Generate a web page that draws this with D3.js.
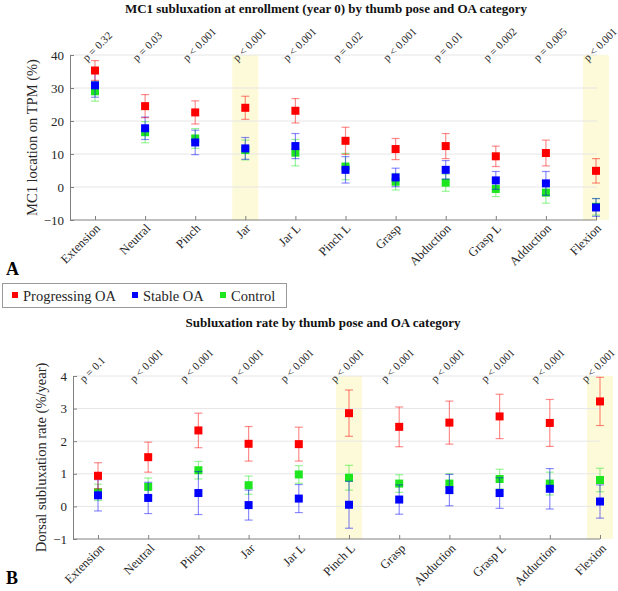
<!DOCTYPE html>
<html><head><meta charset="utf-8">
<script src="https://cdn.jsdelivr.net/npm/d3@7"></script>
<style>body{margin:0;background:#fff}svg{display:block}svg text{font-family:"Liberation Serif","Times New Roman",serif !important}</style>
</head><body>
<svg id="c" width="618" height="591" font-family="Liberation Serif, serif"></svg>
<script>
const categories = ["Extension","Neutral","Pinch","Jar","Jar L","Pinch L","Grasp","Abduction","Grasp L","Adduction","Flexion"];
const seriesNames = ["Progressing OA","Stable OA","Control"];
const seriesColors = ["#ff0000","#0000ff","#1ee61e"];

// Panel A: MC1 location on TPM (%) at enrollment
const progA = [35.3, 24.5, 22.6, 24.0, 23.1, 14.0, 11.5, 12.4, 9.3, 10.3, 4.9];
const progErrA = [3.0, 3.5, 3.5, 3.5, 3.7, 4.1, 3.2, 3.8, 3.1, 3.9, 3.7];
const stableA = [30.8, 17.8, 13.5, 11.7, 12.4, 5.2, 2.9, 5.2, 2.0, 1.1, -6.2];
const stableErrA = [3.6, 3.4, 3.7, 3.3, 3.8, 4.0, 2.8, 2.8, 2.7, 3.6, 2.7];
const controlA = [29.0, 16.6, 14.7, 11.2, 10.4, 6.2, 1.6, 1.3, -0.6, -1.7, -6.0];
const controlErrA = [3.0, 3.2, 3.0, 3.0, 4.0, 4.0, 2.5, 2.6, 2.3, 3.2, 2.5];
const pValuesA = ["p = 0.32","p = 0.03","p < 0.001","p < 0.001","p < 0.001","p = 0.02","p < 0.001","p = 0.01","p = 0.002","p = 0.005","p < 0.001"];
const highlightA = ["Jar","Flexion"];
const yTicksA = [-10, 0, 10, 20, 30, 40];

// Panel B: dorsal subluxation rate (%/year)
const progB = [0.94, 1.51, 2.33, 1.92, 1.91, 2.86, 2.44, 2.57, 2.76, 2.56, 3.22];
const progErrB = [0.40, 0.46, 0.53, 0.53, 0.52, 0.71, 0.61, 0.66, 0.68, 0.72, 0.74];
const stableB = [0.34, 0.26, 0.41, 0.04, 0.24, 0.05, 0.21, 0.50, 0.41, 0.54, 0.15];
const stableErrB = [0.48, 0.48, 0.66, 0.46, 0.43, 0.72, 0.45, 0.48, 0.47, 0.62, 0.51];
const controlB = [0.43, 0.60, 1.11, 0.65, 0.98, 0.88, 0.70, 0.70, 0.84, 0.70, 0.81];
const controlErrB = [0.25, 0.27, 0.27, 0.28, 0.27, 0.38, 0.27, 0.30, 0.30, 0.35, 0.36];
const pValuesB = ["p = 0.1","p < 0.001","p < 0.001","p < 0.001","p < 0.001","p < 0.001","p < 0.001","p < 0.001","p < 0.001","p < 0.001","p < 0.001"];
const highlightB = ["Pinch L","Flexion"];
const yTicksB = [-1, 0, 1, 2, 3, 4];

const FONT = "Liberation Serif, Times New Roman, serif";
const svg = d3.select("#c");

function panel(cfg) {
  const g = svg.append("g").attr("font-family", FONT);
  const x = d3.scalePoint().domain(categories).range([cfg.x0, cfg.x1]);
  const y = d3.scaleLinear().domain(cfg.yDomain).range([cfg.yBottom, cfg.yTop]);
  // highlight bands
  g.selectAll("rect.band").data(cfg.highlight).join("rect")
    .attr("x", d => x(d) - 13).attr("width", 26)
    .attr("y", cfg.yTop).attr("height", cfg.yBottom - cfg.yTop)
    .attr("fill", "#fcfad8");
  // gridlines
  g.selectAll("line.grid").data(cfg.yTicks.slice(1)).join("line")
    .attr("x1", cfg.axLeft).attr("x2", cfg.axRight)
    .attr("y1", d => y(d)).attr("y2", d => y(d))
    .attr("stroke", "#e6e6e6").attr("stroke-width", 1);
  // axes
  const ya = g.append("g").attr("transform", `translate(${cfg.axLeft},0)`)
    .call(d3.axisLeft(y).tickValues(cfg.yTicks).tickFormat(d3.format("d"))
      .tickSizeInner(-4).tickSizeOuter(0).tickPadding(6));
  ya.attr("font-family", FONT);
  ya.select(".domain").attr("stroke", "#808080");
  ya.selectAll(".tick line").attr("stroke", "#808080");
  ya.selectAll(".tick text").attr("font-size", 13).attr("fill", "#262626").attr("font-family", FONT);
  const xa = g.append("g").attr("transform", `translate(0,${cfg.yBottom})`)
    .call(d3.axisBottom(x).tickSizeInner(-4).tickSizeOuter(0).tickFormat(""));
  xa.select(".domain").attr("d", `M${cfg.axLeft},0H${cfg.axRight}`).attr("stroke", "#808080");
  xa.selectAll(".tick line").attr("stroke", "#808080");
  g.selectAll("text.xl").data(categories).join("text")
    .attr("transform", d => `translate(${x(d) + cfg.xlDx},${cfg.yBottom + cfg.xlDy}) rotate(-45)`)
    .attr("text-anchor", "end").attr("font-size", 12.5).attr("fill", "#262626").text(d => d);
  // p-values
  g.selectAll("text.pv").data(cfg.pValues).join("text")
    .attr("transform", (d, i) => `translate(${x(categories[i]) + cfg.pvDx},${cfg.yTop + 7}) rotate(-45)`)
    .attr("text-anchor", "start").attr("font-size", 11).attr("fill", "#262626").text(d => d);
  // title
  g.append("text").attr("x", cfg.titleX).attr("y", cfg.titleY).attr("text-anchor", "middle")
    .attr("font-size", 13).attr("font-weight", "bold").attr("fill", "#111").text(cfg.title);
  // y label
  g.append("text").attr("transform", `translate(${cfg.ylX},${(cfg.yTop + cfg.yBottom) / 2}) rotate(-90)`)
    .attr("text-anchor", "middle").attr("font-size", 14.5).attr("fill", "#262626").text(cfg.yLabel);
  // series: control, stable, progressing (draw order)
  const order = [2, 1, 0];
  order.forEach(si => {
    const vals = cfg.series[si], errs = cfg.errs[si], col = seriesColors[si];
    const sg = g.append("g");
    const eg = sg.append("g").attr("stroke", col).attr("stroke-opacity", 0.45).attr("stroke-width", 1.2);
    categories.forEach((c, i) => {
      const cx = x(c), yt = y(vals[i] + errs[i]), yb = y(vals[i] - errs[i]);
      eg.append("line").attr("x1", cx).attr("x2", cx).attr("y1", yt).attr("y2", yb);
      eg.append("line").attr("x1", cx - 4).attr("x2", cx + 4).attr("y1", yt).attr("y2", yt);
      eg.append("line").attr("x1", cx - 4).attr("x2", cx + 4).attr("y1", yb).attr("y2", yb);
    });
    sg.selectAll("rect.m").data(vals).join("rect")
      .attr("x", (d, i) => x(categories[i]) - 4).attr("y", d => y(d) - 4)
      .attr("width", 8).attr("height", 8).attr("fill", col);
  });
}

panel({
  x0: 95, x1: 596, axLeft: 70, axRight: 597, yTop: 55, yBottom: 220, yDomain: [-10, 40],
  yTicks: yTicksA, highlight: highlightA, pValues: pValuesA, pvDx: -8,
  series: [progA, stableA, controlA], errs: [progErrA, stableErrA, controlErrA],
  title: "MC1 subluxation at enrollment (year 0) by thumb pose and OA category", titleX: 326, titleY: 13,
  yLabel: "MC1 location on TPM (%)", ylX: 37, xlDx: 6, xlDy: 9
});
panel({
  x0: 98, x1: 600, axLeft: 73, axRight: 600, yTop: 376, yBottom: 539, yDomain: [-1, 4],
  yTicks: yTicksB, highlight: highlightB, pValues: pValuesB, pvDx: -14,
  series: [progB, stableB, controlB], errs: [progErrB, stableErrB, controlErrB],
  title: "Subluxation rate by thumb pose and OA category", titleX: 323, titleY: 327,
  yLabel: "Dorsal subluxation rate (%/year)", ylX: 46, xlDx: 7, xlDy: 10
});

// panel letters
svg.append("text").attr("x", 6).attr("y", 275).attr("font-size", 18).attr("font-weight", "bold").attr("font-family", FONT).text("A");
svg.append("text").attr("x", 6).attr("y", 584).attr("font-size", 18).attr("font-weight", "bold").attr("font-family", FONT).text("B");

// legend
const lg = svg.append("g").attr("font-family", FONT);
lg.append("rect").attr("x", 2.5).attr("y", 283.5).attr("width", 284).attr("height", 24)
  .attr("fill", "#fff").attr("stroke", "#9a9a9a").attr("stroke-width", 1);
const legendX = [12, 132, 220];
seriesNames.forEach((n, i) => {
  lg.append("rect").attr("x", legendX[i]).attr("y", 292).attr("width", 6).attr("height", 6).attr("fill", seriesColors[i]);
  lg.append("text").attr("x", legendX[i] + 11).attr("y", 300.5).attr("font-size", 14.5).attr("fill", "#262626").text(n);
});
</script>
</body></html>
